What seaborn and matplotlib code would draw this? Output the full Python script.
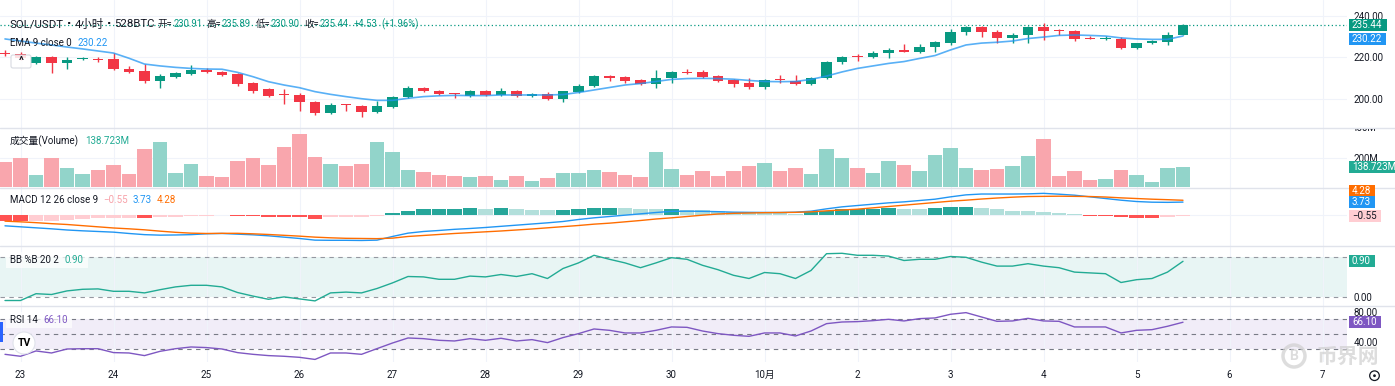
import numpy as np
import pandas as pd
import matplotlib
matplotlib.use("Agg")
import matplotlib.pyplot as plt
import matplotlib.transforms as mtransforms
import seaborn as sns
from matplotlib.patches import Rectangle, FancyBboxPatch, Circle
from matplotlib.lines import Line2D

# ------------------------------------------------------------------ data
title_text = "SOL/USDT · 4小时 · 528BTC"
start_time = "2025-09-22 20:00"
axis_start_day = "2025-09-23"
axis_end_day = "2025-10-07"

opens = [222.2, 221.6, 217.2, 220.1, 217.2, 219.1, 219.0, 219.0, 214.3, 213.4,
         208.5, 210.5, 212.0, 213.8, 212.9, 211.8, 207.5, 204.6, 202.2, 201.8,
         198.4, 193.0, 197.0, 196.5, 193.7, 196.0, 200.8, 205.1, 203.7, 202.4,
         201.4, 203.7, 201.9, 203.7, 201.3, 202.2, 199.9, 203.2, 206.1, 211.0,
         210.5, 209.0, 207.1, 210.0, 212.7, 212.7, 210.9, 209.0, 207.5, 205.6,
         209.1, 208.5, 207.1, 210.0, 217.6, 220.3, 220.1, 222.0, 223.4, 222.5,
         224.9, 226.8, 232.0, 234.5, 232.0, 229.2, 230.7, 234.5, 232.7, 232.6,
         229.0, 229.0, 228.8, 224.4, 226.8, 227.5, 230.91]
highs = [223.5, 222.5, 220.6, 220.8, 220.1, 220.0, 219.9, 222.0, 215.8, 216.7,
         211.9, 213.0, 216.3, 214.6, 213.3, 212.5, 208.2, 205.0, 204.6, 202.7,
         199.0, 198.0, 197.3, 197.0, 199.0, 201.4, 206.0, 205.4, 204.0, 202.8,
         204.4, 204.0, 205.1, 204.3, 202.6, 203.2, 203.9, 206.9, 211.6, 211.3,
         210.9, 209.5, 213.8, 213.3, 214.2, 213.8, 211.4, 209.3, 210.0, 209.3,
         211.2, 211.5, 210.5, 218.0, 220.8, 221.7, 223.0, 224.6, 226.2, 226.2,
         227.6, 233.4, 234.9, 234.8, 233.0, 231.6, 235.0, 236.5, 233.4, 233.3,
         230.2, 230.0, 229.5, 227.0, 228.3, 232.0, 235.89]
lows = [220.8, 218.8, 216.8, 212.4, 214.3, 218.6, 217.7, 213.8, 212.5, 207.6,
        205.0, 209.9, 211.6, 212.2, 211.0, 206.1, 202.8, 200.6, 197.4, 194.3,
        192.1, 192.8, 194.0, 191.3, 193.0, 195.6, 200.5, 203.4, 201.9, 200.3,
        201.0, 201.2, 201.5, 201.0, 201.0, 199.4, 198.3, 202.7, 205.8, 208.6,
        207.6, 206.5, 205.0, 207.6, 211.7, 210.1, 208.0, 205.6, 204.7, 204.5,
        207.6, 206.7, 206.8, 209.7, 216.5, 218.1, 219.5, 219.8, 222.3, 222.2,
        222.4, 225.8, 230.8, 229.9, 226.8, 227.0, 226.8, 228.2, 230.8, 228.0,
        228.7, 228.5, 224.0, 224.0, 226.5, 226.0, 230.90]
closes = [221.6, 219.5, 220.1, 217.2, 218.6, 219.4, 218.7, 214.2, 213.0, 208.5,
          211.0, 212.3, 213.8, 212.9, 211.5, 207.0, 203.7, 201.3, 202.0, 198.2,
          193.0, 197.0, 196.8, 193.7, 196.5, 200.8, 205.1, 203.7, 202.2, 202.2,
          203.7, 201.8, 203.7, 201.3, 202.2, 199.9, 203.7, 206.0, 211.0, 210.2,
          208.5, 207.0, 210.0, 212.9, 212.5, 210.5, 208.5, 207.0, 205.6, 209.0,
          208.9, 207.0, 210.0, 217.6, 220.1, 220.1, 222.0, 223.4, 222.7, 224.9,
          227.3, 232.0, 234.5, 232.0, 229.2, 230.7, 234.5, 232.6, 232.5, 228.8,
          228.8, 229.2, 224.4, 226.8, 227.8, 230.7, 235.44]
volume_m = [173, 200, 82, 200, 133, 89, 113, 149, 89, 256,
            304, 96, 156, 78, 69, 180, 200, 149, 269, 356,
            202, 160, 142, 156, 304, 240, 113, 100, 82, 78,
            71, 78, 49, 73, 44, 62, 93, 93, 115, 104,
            82, 69, 236, 122, 82, 109, 73, 109, 140, 164,
            109, 129, 89, 256, 196, 129, 93, 176, 149, 109,
            220, 264, 133, 118, 122, 140, 209, 327, 78, 109,
            49, 58, 113, 82, 38, 133, 138.723]
ema9 = [228.8, 227.8, 226.8, 225.9, 224.9, 224.0, 223.0, 222.0, 219.5, 216.7,
        215.8, 215.1, 214.6, 214.3, 214.2, 212.7, 210.6, 208.2, 206.6, 205.3,
        203.4, 202.1, 201.0, 200.0, 199.2, 199.2, 200.2, 201.0, 201.4, 201.6,
        201.5, 201.5, 201.8, 201.8, 201.8, 201.8, 202.0, 203.0, 204.2, 205.4,
        206.6, 207.3, 208.3, 209.3, 209.7, 209.8, 209.7, 209.4, 208.8, 208.3,
        208.2, 208.3, 209.3, 210.9, 212.9, 214.6, 215.8, 217.0, 217.9, 219.4,
        220.8, 223.5, 225.9, 226.8, 227.2, 227.8, 229.0, 229.7, 230.5, 230.7,
        230.5, 230.2, 229.3, 228.8, 228.6, 228.6, 230.22]
macd_line = [-3.4, -3.7, -4.0, -4.3, -4.65, -4.9, -5.1, -5.3, -5.7, -6.05,
             -6.2, -6.15, -6.05, -5.8, -5.7, -5.9, -6.1, -6.4, -6.8, -7.2,
             -7.7, -7.75, -7.75, -7.8, -7.7, -6.6, -5.6, -5.1, -4.8, -4.45,
             -4.2, -3.9, -3.55, -3.2, -2.85, -2.5, -2.1, -1.5, -1.0, -0.6,
             -0.2, 0.2, 0.6, 0.95, 1.0, 0.95, 0.85, 0.7, 0.65, 0.62,
             0.6, 0.7, 1.0, 1.7, 2.3, 2.7, 3.1, 3.5, 3.8, 4.2,
             4.6, 5.3, 5.9, 6.15, 6.15, 6.15, 6.2, 6.35, 6.1, 5.8,
             5.3, 4.8, 4.3, 3.9, 3.7, 3.65, 3.73]
signal_line = [-2.0, -2.2, -2.45, -2.75, -3.0, -3.35, -3.7, -4.05, -4.3, -4.6,
               -5.0, -5.35, -5.6, -5.7, -5.65, -5.65, -5.8, -6.0, -6.25, -6.5,
               -6.8, -7.0, -7.15, -7.2, -7.25, -7.1, -6.6, -6.3, -6.0, -5.7,
               -5.45, -5.2, -4.95, -4.65, -4.35, -4.0, -3.65, -3.3, -2.9, -2.6,
               -2.2, -1.8, -1.35, -1.0, -0.6, -0.2, 0.15, 0.35, 0.45, 0.55,
               0.6, 0.65, 0.8, 1.1, 1.35, 1.6, 2.0, 2.4, 2.8, 3.2,
               3.6, 4.0, 4.3, 4.65, 4.95, 5.2, 5.4, 5.45, 5.5, 5.45,
               5.4, 5.25, 5.0, 4.8, 4.6, 4.45, 4.28]
macd_hist = [-1.86, -2.05, -1.86, -1.86, -1.65, -1.25, -1.05, -1.05, -1.05, -1.15,
             -0.85, -0.65, -0.35, -0.3, -0.2, -0.35, -0.45, -0.65, -0.75, -0.8,
             -1.25, -0.85, -0.65, -0.6, -0.45, 0.45, 1.05, 1.65, 1.68, 1.72,
             1.85, 1.8, 1.9, 1.6, 1.5, 1.3, 1.45, 1.6, 2.0, 2.05,
             1.95, 1.8, 1.6, 1.7, 1.5, 1.3, 1.0, 0.8, 0.6, 0.5,
             0.4, 0.2, 0.8, 1.0, 1.6, 1.65, 1.8, 1.85, 1.8, 1.75,
             2.0, 2.2, 2.25, 2.0, 1.6, 1.2, 1.0, 0.8, 0.6, 0.2,
             -0.3, -0.4, -0.8, -1.0, -1.05, -0.6, -0.55]
bb_pctb = [-0.08, -0.08, 0.09, 0.07, 0.16, 0.20, 0.21, 0.15, 0.15, 0.11,
           0.19, 0.26, 0.30, 0.30, 0.26, 0.12, 0.03, -0.05, 0.01, -0.04,
           -0.09, 0.11, 0.13, 0.11, 0.22, 0.36, 0.52, 0.51, 0.45, 0.45,
           0.53, 0.51, 0.57, 0.52, 0.59, 0.47, 0.72, 0.86, 1.05, 0.95,
           0.86, 0.74, 0.86, 0.99, 0.95, 0.80, 0.69, 0.55, 0.47, 0.62,
           0.59, 0.47, 0.67, 1.09, 1.10, 1.05, 1.05, 1.03, 0.92, 0.95,
           0.95, 1.02, 1.00, 0.88, 0.78, 0.78, 0.84, 0.78, 0.74, 0.63,
           0.61, 0.59, 0.37, 0.44, 0.47, 0.63, 0.90]
rsi14 = [23.3, 20.7, 27.8, 25.1, 30.4, 30.8, 30.8, 25.6, 25.1, 21.6,
         27.3, 30.8, 33.1, 32.3, 30.4, 25.6, 23.3, 21.6, 20.7, 19.3,
         16.5, 25.1, 25.1, 23.3, 30.9, 38.4, 45.1, 44.2, 42.0, 41.1,
         44.2, 42.0, 44.7, 41.1, 42.9, 38.9, 45.6, 50.9, 57.1, 55.3,
         51.8, 51.8, 55.3, 59.8, 59.3, 54.4, 50.9, 48.7, 47.3, 51.8,
         51.8, 47.8, 54.4, 64.2, 66.4, 66.9, 68.2, 70.0, 67.8, 70.9,
         71.8, 76.7, 78.9, 73.1, 67.3, 67.8, 71.3, 67.8, 67.3, 59.8,
         59.8, 59.8, 51.8, 55.3, 56.2, 60.7, 66.1]
price_ticks = [200, 220, 240]
volume_ticks = [200]
volume_top_tick = 400
bb_ticks = [0.0]
rsi_ticks = [40, 80]
bb_levels = [0.0, 1.0]
rsi_levels = [30, 50, 70]

# ------------------------------------------------------------------ frame
n = len(closes)
times = pd.date_range(start_time, periods=n, freq="4h")
df = pd.DataFrame({"i": np.arange(n), "time": times, "open": opens, "high": highs,
                   "low": lows, "close": closes, "vol": volume_m, "ema": ema9,
                   "macd": macd_line, "signal": signal_line, "hist": macd_hist,
                   "pctb": bb_pctb, "rsi": rsi14})
day_ticks = pd.date_range(axis_start_day, axis_end_day, freq="D")
tick_x = [(t - times[0]) / pd.Timedelta("4h") for t in day_ticks]
tick_lab = ["10月" if t.day == 1 else str(t.day) for t in day_ticks]

# ------------------------------------------------------------------ style
W, H = 1395, 386
sns.set_theme(style="white")
plt.rcParams["font.family"] = ["Roboto", "Noto Sans CJK SC", "DejaVu Sans"]
plt.rcParams["axes.unicode_minus"] = True

UP, DN = "#089981", "#f23645"
VUP, VDN = "#92d4ca", "#f9a6ad"
TXT = "#131722"
GRID = "#f0f3fa"
SEP = "#e0e3eb"
PLOT_R = 1347
STEP, X0 = 15.5, 5.0

fig = plt.figure(figsize=(W / 100, H / 100), dpi=100)
fig.patch.set_facecolor("white")


def pane(top, bottom, ylim):
    ax = fig.add_axes([0, 1 - bottom / H, PLOT_R / W, (bottom - top) / H])
    for s in ax.spines.values():
        s.set_visible(False)
    ax.set_facecolor("none")
    ax.set_xlim(-X0 / STEP, (PLOT_R - X0) / STEP)
    ax.set_ylim(*ylim)
    ax.set_xticks(tick_x)
    ax.grid(axis="x", color=GRID, lw=0.8)
    ax.tick_params(axis="x", length=0, labelbottom=False)
    ax.yaxis.tick_right()
    ax.tick_params(axis="y", length=0, pad=4.5, labelsize=7, labelcolor=TXT)
    ax.set_axisbelow(True)
    return ax


ax_p = pane(0, 127.5, (186.12, 247.57))
ax_v = pane(128.5, 188, (-4.67, 395.3))
ax_m = pane(188.5, 246, (-9.46, 7.81))
ax_b = pane(246.5, 306, (-0.2175, 1.27))
ax_r = pane(306.5, 362, (13.07, 87.07))

# ---- price pane
ax_p.set_yticks(price_ticks, [f"{v:.2f}" for v in price_ticks])
ax_p.grid(axis="y", color=GRID, lw=0.8)
col = np.where(df["close"] >= df["open"], UP, DN)
ax_p.vlines(df["i"], df["low"], df["high"], colors=col, lw=1.0, zorder=2)
body_lo = np.minimum(df["open"], df["close"])
body_h = np.maximum(np.abs(df["close"] - df["open"]), 0.45)
ax_p.bar(df["i"], body_h, bottom=body_lo, width=0.69, color=col, lw=0, zorder=3)
sns.lineplot(data=df, x="i", y="ema", ax=ax_p, color="#2196f3", lw=1.2, alpha=0.75,
             legend=False, zorder=4)
ax_p.axhline(closes[-1], color=UP, lw=0.9, ls=(0, (1, 2)), zorder=1)

# ---- volume pane
ax_v.set_yticks(volume_ticks, [f"{v}M" for v in volume_ticks])
ax_v.grid(axis="y", color=GRID, lw=0.8)
vcol = np.where(df["close"] >= df["open"], VUP, VDN)
ax_v.bar(df["i"], df["vol"], width=0.92, color=vcol, lw=0, zorder=2)

# ---- MACD pane
ax_m.set_yticks([])
ax_m.axhline(0, color=GRID, lw=0.8, zorder=0)
hist = df["hist"].to_numpy()
prev = np.concatenate([[0.0], hist[:-1]])
hcol = np.where(hist >= 0, np.where(hist > prev, "#26a69a", "#b2dfdb"),
                np.where(hist < prev, "#ff5252", "#ffcdd2"))
ax_m.bar(df["i"], hist, width=0.92, color=hcol, lw=0, zorder=2)
sns.lineplot(data=df, x="i", y="macd", ax=ax_m, color="#2196f3", lw=1.0, legend=False, zorder=3)
sns.lineplot(data=df, x="i", y="signal", ax=ax_m, color="#ff6d00", lw=1.0, legend=False, zorder=3)

# ---- BB %B pane
ax_b.set_yticks(bb_ticks, [f"{v:.2f}" for v in bb_ticks])
ax_b.axhspan(min(bb_levels), max(bb_levels), color="#26a69a", alpha=0.1, lw=0, zorder=0)
for lv in bb_levels:
    ax_b.axhline(lv, color="#9598a1", lw=0.8, ls=(0, (4, 4)), zorder=1)
sns.lineplot(data=df, x="i", y="pctb", ax=ax_b, color="#22ab94", lw=1.0, legend=False, zorder=3)

# ---- RSI pane
ax_r.set_yticks(rsi_ticks, [f"{v:.2f}" for v in rsi_ticks])
ax_r.axhspan(min(rsi_levels), max(rsi_levels), color="#7e57c2", alpha=0.1, lw=0, zorder=0)
for lv in rsi_levels:
    ax_r.axhline(lv, color="#787b86", lw=0.8, ls=(0, (4, 4)), zorder=1)
sns.lineplot(data=df, x="i", y="rsi", ax=ax_r, color="#7e57c2", lw=1.0, legend=False, zorder=3)
ax_r.set_xticks(tick_x, tick_lab)
ax_r.tick_params(axis="x", labelbottom=True, labelsize=7, labelcolor=TXT, pad=5.5)

for ax in (ax_p, ax_v, ax_m, ax_b, ax_r):
    ax.set_xlabel("")
    ax.set_ylabel("")

# ---- pane separators
for yy in (128, 188.2, 246.2, 306.2):
    fig.add_artist(Line2D([0, 1], [1 - yy / H] * 2, color=SEP, lw=1.0,
                          transform=fig.transFigure))

renderer = fig.canvas.get_renderer()


def text_run(x, y, parts, size=7.0, gap=6, bg=False, fit=None):
    """Draw coloured pieces side by side; optional fit=(target width px)."""
    def layout(sz, draw):
        cx = x
        arts = []
        for part in parts:
            s, c = part[0], part[1]
            g = part[2] if len(part) > 2 else gap
            kw = part[3] if len(part) > 3 else {}
            t = fig.text(cx / W, 1 - y / H, s, color=c, fontsize=sz, va="center",
                         ha="left", zorder=8, **kw)
            bb = t.get_window_extent(renderer=renderer)
            arts.append(t)
            cx += bb.width + g
        if not draw:
            for t in arts:
                t.remove()
        return cx
    if fit is not None:
        w0 = layout(size, False) - x
        size = size * fit / max(w0, 1)
    cx = layout(size, True)
    if bg:
        fig.add_artist(Rectangle(((x - 4) / W, 1 - (y + 8) / H), (cx - x + 2) / W, 16 / H,
                                 transform=fig.transFigure, facecolor="white",
                                 alpha=0.7, lw=0, zorder=7))
    return cx


def data_y(ax, v):
    return H - ax.transData.transform((0, v))[1]


def tag(y, s, bg, fg="white"):
    t = fig.text(1352 / W, 1 - y / H, s, color=fg, fontsize=7, va="center", ha="left",
                 zorder=10)
    bb = t.get_window_extent(renderer=renderer)
    fig.add_artist(Rectangle((1349 / W, 1 - (y + 6) / H), (bb.width + 7) / W, 12 / H,
                             transform=fig.transFigure, facecolor=bg, lw=0, zorder=9))


# ---- top volume scale label, clipped by the pane border as in TradingView
t400 = fig.text(1352 / W, 1 - data_y(ax_v, volume_top_tick) / H, f"{volume_top_tick}M",
                color=TXT, fontsize=7, va="center", ha="left", zorder=5)
t400.set_clip_box(mtransforms.Bbox([[1340, 0], [W, H - 128.6]]))
t400.set_clip_on(True)

# ---- legends
title_parts = []
for k, seg in enumerate(title_text.split(" · ")):
    if k:
        title_parts.append(("·", TXT, 3, {"fontweight": "bold", "family": ["DejaVu Sans"]}))
    title_parts.append((seg, TXT, 3))
text_run(10, 24, title_parts, size=9.0, fit=145)
chg = closes[-1] - opens[-1]
text_run(158, 24, [("开=", TXT, 0.5), (f"{opens[-1]:.2f}", UP, 4.5),
                   ("高=", TXT, 0.5), (f"{highs[-1]:.2f}", UP, 4.5),
                   ("低=", TXT, 0.5), (f"{lows[-1]:.2f}", UP, 4.5),
                   ("收=", TXT, 0.5), (f"{closes[-1]:.2f}", UP, 4.5),
                   (f"+{chg:.2f}", UP, 4.5), (f"(+{chg / opens[-1] * 100:.2f}%)", UP, 0)],
         size=7.9, fit=261)
text_run(10, 42.5, [("EMA 9 close 0", TXT), (f"{ema9[-1]:.2f}", "#2196f3")], size=7.0)
text_run(10, 141.3, [("成交量(Volume)", TXT), (f"{volume_m[-1]:.3f}M", "#22ab94")], size=7.0)
text_run(10, 200.3, [("MACD 12 26 close 9", TXT),
                     (f"{macd_hist[-1]:.2f}".replace("-", "\u2212"), "#f7a1a9"),
                     (f"{macd_line[-1]:.2f}", "#2196f3"), (f"{signal_line[-1]:.2f}", "#ff6d00")],
         size=7.0, gap=5)
text_run(10, 260, [("BB %B 20 2", TXT), (f"{bb_pctb[-1]:.2f}", "#22ab94")], size=7.0, bg=True)
text_run(10, 320, [("RSI 14", TXT), (f"{rsi14[-1]:.2f}", "#7e57c2")], size=7.0, bg=True)

# ---- price scale tags
y_close = data_y(ax_p, closes[-1])
tag(y_close, f"{closes[-1]:.2f}", UP)
tag(max(data_y(ax_p, ema9[-1]), y_close + 14), f"{ema9[-1]:.2f}", "#2196f3")
tag(data_y(ax_v, volume_m[-1]), f"{volume_m[-1]:.3f}M", "#22ab94")
y_macd = data_y(ax_m, macd_line[-1])
tag(min(data_y(ax_m, signal_line[-1]), y_macd - 11), f"{signal_line[-1]:.2f}", "#ff6d00")
tag(y_macd, f"{macd_line[-1]:.2f}", "#2196f3")
tag(data_y(ax_m, macd_hist[-1]), f"{macd_hist[-1]:.2f}".replace("-", "\u2212"), "#ffcdd2", TXT)
tag(data_y(ax_b, bb_pctb[-1]), f"{bb_pctb[-1]:.2f}", "#22ab94")
tag(data_y(ax_r, rsi14[-1]), f"{rsi14[-1]:.2f}", "#7e57c2")

# ---- decorations (collapse button, logo, watermark, settings icon)
px = mtransforms.IdentityTransform()
fig.add_artist(FancyBboxPatch((11, H - 68), 20, 13, boxstyle="round,pad=0,rounding_size=2",
                              transform=px, facecolor="white", edgecolor="#d1d4dc",
                              lw=0.8, alpha=0.85, zorder=8))
fig.text(21 / W, 1 - 61.5 / H, "^", fontsize=8, color=TXT, ha="center", va="center",
         fontweight="bold", zorder=9)
fig.add_artist(Circle((24, H - 343), 11, transform=px, facecolor="white",
                      edgecolor="#e0e3eb", lw=0.8, zorder=8))
fig.text(24 / W, 1 - 343 / H, "TV", fontsize=7.5, color="#000000", ha="center",
         va="center", fontweight="bold", zorder=9)
fig.add_artist(Rectangle((0, 1 - 342 / H), 3 / W, 20 / H, transform=fig.transFigure,
                         facecolor="#2962ff", lw=0, zorder=8))
fig.add_artist(Circle((1294, H - 356), 11, transform=px, facecolor="none",
                      edgecolor="#cfcfcf", lw=2.5, alpha=0.7, zorder=11))
fig.text(1294 / W, 1 - 356 / H, "B", fontsize=10, color="#cfcfcf", ha="center",
         va="center", fontweight="bold", alpha=0.7, zorder=11)
fig.text(1348 / W, 1 - 356 / H, "币界网", fontsize=15, color="#cfcfcf", ha="center",
         va="center", fontweight="bold", alpha=0.7, zorder=11,
         family=["Noto Sans CJK SC", "DejaVu Sans"])
fig.add_artist(Circle((1374.5, H - 375.7), 4.8, transform=px, facecolor="none",
                      edgecolor=TXT, lw=0.9, zorder=9))
fig.add_artist(Circle((1374.5, H - 375.7), 1.4, transform=px, facecolor=TXT,
                      lw=0, zorder=9))

fig.savefig("out.png", dpi=100, facecolor="white")
